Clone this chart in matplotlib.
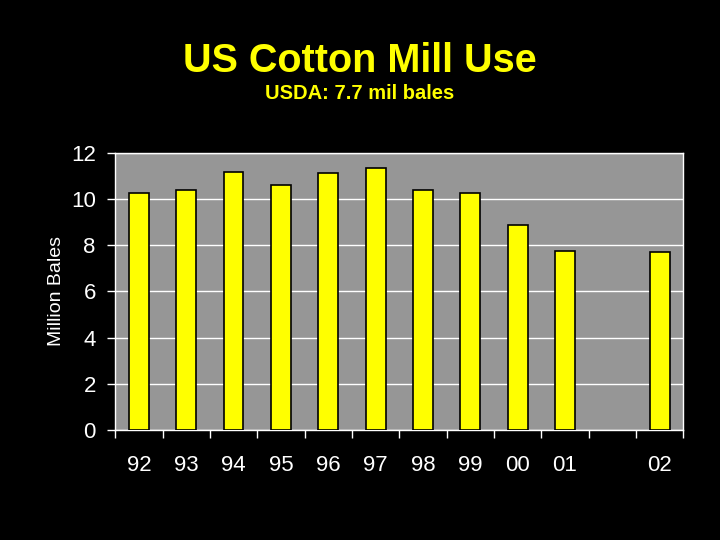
import numpy as np
import matplotlib
matplotlib.use('Agg')
import matplotlib.pyplot as plt

plt.rcParams['font.family'] = ['Liberation Sans', 'DejaVu Sans']

# marketing years; one empty slot between 01 and 02
years = ['92', '93', '94', '95', '96', '97', '98', '99', '00', '01', '', '02']
mill_use = [10.26, 10.39, 11.19, 10.61, 11.13, 11.35, 10.39, 10.26, 8.87, 7.74, np.nan, 7.70]
y_ticks = [0, 2, 4, 6, 8, 10, 12]

fig = plt.figure(figsize=(7.2, 5.4), dpi=100, facecolor='black')
ax = fig.add_axes([0.16, 0.204, 0.789, 0.513])
ax.set_facecolor('#969696')

x = np.arange(len(years))
ax.bar(x, mill_use, width=0.42, color='#FFFF00', edgecolor='black', linewidth=1.2, zorder=3)

ax.set_xlim(-0.5, len(years) - 0.5)
ax.set_ylim(0, 12)
ax.set_yticks(y_ticks)
ax.yaxis.grid(True, color='white', linewidth=1)
ax.set_axisbelow(True)

# boundary ticks (major) and centred labels (minor)
ax.set_xticks(np.arange(len(years) + 1) - 0.5)
ax.set_xticklabels([])
ax.set_xticks(x, minor=True)
ax.set_xticklabels(years, minor=True)
ax.tick_params(axis='x', which='major', length=6, color='white', width=1)
ax.tick_params(axis='x', which='minor', length=0, pad=18, labelsize=16, labelcolor='white')
ax.tick_params(axis='y', length=6, color='white', width=1, labelsize=16, labelcolor='white', pad=8)

for s in ax.spines.values():
    s.set_color('white')
    s.set_linewidth(1)

ax.set_ylabel('Million Bales', color='white', fontsize=14, labelpad=4)

fig.text(0.5, 0.887, 'US Cotton Mill Use', color='#FFFF00', fontsize=28.5,
         fontweight='bold', ha='center', va='center')
fig.text(0.5, 0.826, 'USDA: 7.7 mil bales', color='#FFFF00', fontsize=14.5,
         fontweight='bold', ha='center', va='center')

fig.savefig('out.png', dpi=100, facecolor='black')
